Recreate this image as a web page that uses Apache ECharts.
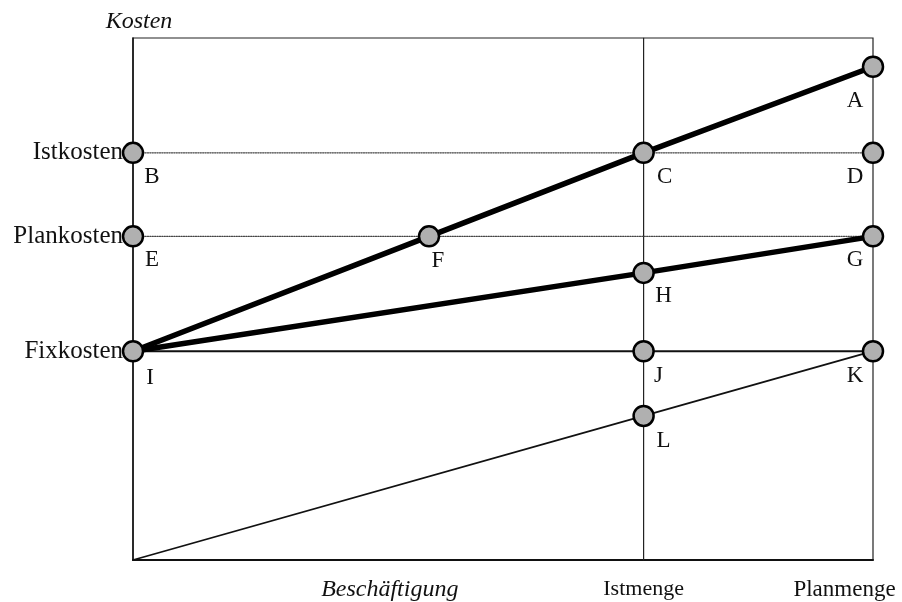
<!DOCTYPE html>
<html>
<head>
<meta charset="utf-8">
<script src="https://cdn.jsdelivr.net/npm/echarts@6/dist/echarts.min.js"></script>
<style>
html,body{margin:0;padding:0;background:#fff;}
#main{width:902px;height:602px;}
</style>
</head>
<body>
<div id="main"></div>
<script>
// ---- data ----
const xTickValues = [34.7, 69, 100];
const xTickLabels = ['Beschäftigung', 'Istmenge', 'Planmenge'];
const yTickValues = [78, 62, 40];
const yTickLabels = ['Istkosten', 'Plankosten', 'Fixkosten'];
const yAxisName = 'Kosten';

const pointNames = ['A', 'B', 'C', 'D', 'E', 'F', 'G', 'H', 'I', 'J', 'K', 'L'];
const pointX =     [100,  0,  69, 100,  0,  40, 100, 69,  0,  69, 100, 69];
const pointY =     [94.5, 78, 78, 78,  62,  62,  62,  55, 40,  40,  40, 27.6];

// Istkosten line I-F-C-A
const istLineX = [0, 40, 69, 100];
const istLineY = [40, 62, 78, 94.5];
// Plankosten line I-H-G
const planLineX = [0, 69, 100];
const planLineY = [40, 55, 62];
// Fixkosten line I-J-K
const fixLineX = [0, 69, 100];
const fixLineY = [40, 40, 40];
// proportional line origin-L-K
const propLineX = [0, 69, 100];
const propLineY = [0, 27.6, 40];
// dotted level lines
const istLevelX = [0, 100];
const istLevelY = [78, 78];
const planLevelX = [0, 100];
const planLevelY = [62, 62];
// Istmenge vertical
const istmengeX = [69, 69];
const istmengeY = [0, 100];

// ---- presentation ----
const FONT = 'Liberation Serif';
const labelOffsets = {
  A: [-18, 34], B: [19, 24], C: [21, 24], D: [-18, 24], E: [19, 24], F: [9, 25],
  G: [-18, 24], H: [20, 23], I: [17, 27], J: [15, 25], K: [-18, 25], L: [20, 25]
};
const pair = (xs, ys) => xs.map((x, i) => [x, ys[i]]);

function lineSeries(xs, ys, width, type, color, z) {
  return {
    type: 'line', data: pair(xs, ys), symbol: 'none', silent: true, z: z,
    lineStyle: { width: width, type: type, color: color, cap: 'round' },
    animation: false
  };
}

const chart = echarts.init(document.getElementById('main'), null, { renderer: 'canvas' });
chart.setOption({
  backgroundColor: '#fff',
  animation: false,
  grid: { left: 133, right: 29, top: 38, bottom: 41, show: true, borderColor: '#222', borderWidth: 1.2 },
  xAxis: {
    type: 'value', min: 0, max: 100,
    axisLine: { show: true, lineStyle: { color: '#111', width: 2 } },
    axisTick: { show: false },
    splitLine: { show: false },
    axisLabel: {
      customValues: xTickValues,
      margin: 18,
      fontFamily: FONT, fontSize: 24, color: '#111',
      formatter: function (v) {
        const i = xTickValues.findIndex(t => Math.abs(t - v) < 1e-6);
        const s = i >= 0 ? xTickLabels[i] : '';
        if (i === 0) return '{it|' + s + '}';
        if (i === 2) return '{pl|' + s + '}';
        return '{n|' + s + '}';
      },
      rich: {
        it: { fontFamily: FONT, fontSize: 24, fontStyle: 'italic', color: '#111' },
        n: { fontFamily: FONT, fontSize: 22, color: '#111' },
        pl: { fontFamily: FONT, fontSize: 23, color: '#111', padding: [0, 57, 0, 0] }
      }
    }
  },
  yAxis: {
    type: 'value', min: 0, max: 100,
    name: yAxisName,
    nameLocation: 'end',
    nameGap: 4,
    nameTextStyle: { fontFamily: FONT, fontSize: 24, fontStyle: 'italic', color: '#111', padding: [0, 0, 0, 12] },
    axisLine: { show: true, lineStyle: { color: '#111', width: 1.5 } },
    axisTick: { show: false },
    splitLine: { show: false },
    axisLabel: {
      customValues: yTickValues,
      margin: 10,
      fontFamily: FONT, fontSize: 25, color: '#111',
      formatter: function (v) {
        const i = yTickValues.findIndex(t => Math.abs(t - v) < 1e-6);
        return i >= 0 ? yTickLabels[i] : '';
      }
    }
  },
  series: [
    lineSeries(istmengeX, istmengeY, 1.2, 'solid', '#222', 1),
    lineSeries(istLevelX, istLevelY, 1.2, 'dotted', '#444', 1),
    lineSeries(planLevelX, planLevelY, 1.2, 'dotted', '#444', 1),
    lineSeries(fixLineX, fixLineY, 2, 'solid', '#111', 2),
    lineSeries(propLineX, propLineY, 1.8, 'solid', '#111', 2),
    lineSeries(istLineX, istLineY, 5.5, 'solid', '#000', 3),
    lineSeries(planLineX, planLineY, 5.5, 'solid', '#000', 3),
    {
      type: 'scatter', z: 5, silent: true, animation: false,
      symbol: 'circle', symbolSize: 20,
      itemStyle: { color: '#b0b0b0', borderColor: '#000', borderWidth: 2.5, opacity: 1 },
      data: pointNames.map((n, i) => ({
        name: n,
        value: [pointX[i], pointY[i]],
        label: { offset: labelOffsets[n] }
      })),
      label: {
        show: true, position: 'inside', formatter: '{b}',
        fontFamily: FONT, fontSize: 23, color: '#111',
        align: 'center', verticalAlign: 'middle'
      }
    }
  ]
});
</script>
</body>
</html>
